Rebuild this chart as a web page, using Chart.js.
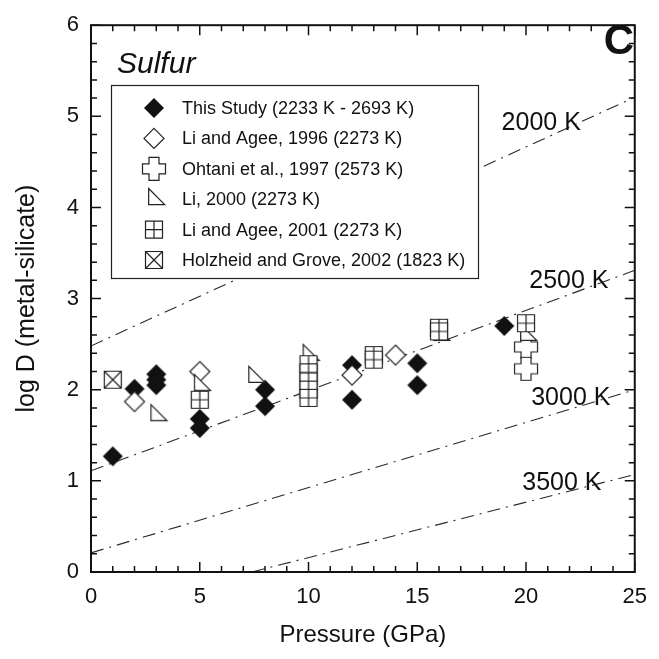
<!DOCTYPE html>
<html>
<head>
<meta charset="utf-8">
<script src="https://cdn.jsdelivr.net/npm/chart.js@4.4.1/dist/chart.umd.min.js"></script>
<style>
  html, body { margin: 0; padding: 0; background: #fff; }
  #wrap { width: 659px; height: 659px; }
</style>
</head>
<body>
<div id="wrap"><canvas id="chart" width="659" height="659"></canvas></div>
<script>
// pressure (GPa) and log D
const thisStudyP = [1, 2, 3, 3, 3, 5, 5, 8, 8, 12, 12, 15, 15, 19];
const thisStudyD = [1.27, 2.01, 2.17, 2.11, 2.05, 1.68, 1.58, 2.00, 1.82, 2.27, 1.89, 2.29, 2.05, 2.70];

const liAgee96P = [2, 5, 12, 14];
const liAgee96D = [1.87, 2.20, 2.16, 2.38];

const ohtaniP = [20, 20];
const ohtaniD = [2.47, 2.23];

const li2000P = [3, 5, 7.5, 10, 16, 20];
const li2000D = [1.72, 2.05, 2.14, 2.38, 2.60, 2.60];

const liAgee01P = [5, 10, 10, 10, 10, 10, 13, 13, 16, 16, 20];
const liAgee01D = [1.89, 2.28, 2.19, 2.09, 2.00, 1.91, 2.38, 2.33, 2.68, 2.64, 2.73];

const holzheidP = [1];
const holzheidD = [2.11];

const seriesLabels = [
  "This Study (2233 K - 2693 K)",
  "Li and Agee, 1996 (2273 K)",
  "Ohtani et al., 1997 (2573 K)",
  "Li, 2000 (2273 K)",
  "Li and Agee, 2001 (2273 K)",
  "Holzheid and Grove, 2002 (1823 K)"
];

// isotherm lines: end points [P0, P1], [logD0, logD1]
const isoLabels = ["2000 K", "2500 K", "3000 K", "3500 K"];
const isoP = [[0, 25], [0, 25], [0, 25], [7.4, 25]];
const isoD = [[2.48, 5.21], [1.11, 3.31], [0.21, 2.0], [0, 1.07]];
const isoLabelP = [20.7, 21.97, 22.06, 21.65];
const isoLabelD = [4.93, 3.19, 1.91, 0.97];

const FONT = "'Liberation Sans', Arial, Helvetica, sans-serif";
const INK = "#111";

function pts(xs, ys) {
  return xs.map((x, i) => ({ x: x, y: ys[i] }));
}

function drawMarker(g, kind, cx, cy) {
  g.save();
  g.lineWidth = 1.2;
  g.strokeStyle = "#222";
  g.fillStyle = "#fff";
  g.beginPath();
  if (kind === "filledDiamond" || kind === "openDiamond") {
    const h = 10;
    g.moveTo(cx, cy - h);
    g.lineTo(cx + h, cy);
    g.lineTo(cx, cy + h);
    g.lineTo(cx - h, cy);
    g.closePath();
    if (kind === "filledDiamond") {
      g.fillStyle = INK;
      g.fill();
    } else {
      g.fill();
      g.stroke();
    }
  } else if (kind === "cross") {
    const a = 5, h = 11.5;
    g.moveTo(cx - a, cy - h);
    g.lineTo(cx + a, cy - h);
    g.lineTo(cx + a, cy - a);
    g.lineTo(cx + h, cy - a);
    g.lineTo(cx + h, cy + a);
    g.lineTo(cx + a, cy + a);
    g.lineTo(cx + a, cy + h);
    g.lineTo(cx - a, cy + h);
    g.lineTo(cx - a, cy + a);
    g.lineTo(cx - h, cy + a);
    g.lineTo(cx - h, cy - a);
    g.lineTo(cx - a, cy - a);
    g.closePath();
    g.fill();
    g.stroke();
  } else if (kind === "triangle") {
    const w = 16, t = 16;
    const left = cx - w / 3, right = cx + 2 * w / 3;
    const top = cy - 2 * t / 3, bot = cy + t / 3;
    g.moveTo(left, top);
    g.lineTo(right, bot);
    g.lineTo(left, bot);
    g.closePath();
    g.fill();
    g.stroke();
  } else {
    const h = 8.5;
    g.rect(cx - h, cy - h, 2 * h, 2 * h);
    g.fill();
    g.stroke();
    g.beginPath();
    if (kind === "gridSquare") {
      g.moveTo(cx, cy - h); g.lineTo(cx, cy + h);
      g.moveTo(cx - h, cy); g.lineTo(cx + h, cy);
    } else {
      g.moveTo(cx - h, cy - h); g.lineTo(cx + h, cy + h);
      g.moveTo(cx + h, cy - h); g.lineTo(cx - h, cy + h);
    }
    g.stroke();
  }
  g.restore();
}

function markerImage(kind) {
  const c = document.createElement("canvas");
  c.width = 28;
  c.height = 28;
  drawMarker(c.getContext("2d"), kind, 14, 14);
  return c;
}

const kinds = ["filledDiamond", "openDiamond", "cross", "triangle", "gridSquare", "xSquare"];
const seriesP = [thisStudyP, liAgee96P, ohtaniP, li2000P, liAgee01P, holzheidP];
const seriesD = [thisStudyD, liAgee96D, ohtaniD, li2000D, liAgee01D, holzheidD];

const datasets = [];
kinds.forEach((k, i) => {
  datasets.push({
    label: seriesLabels[i],
    data: pts(seriesP[i], seriesD[i]),
    pointStyle: markerImage(k),
    legendMarker: k,
    showLine: false,
    order: 6 - i
  });
});
isoLabels.forEach((lab, i) => {
  datasets.push({
    label: lab,
    data: pts(isoP[i], isoD[i]),
    showLine: true,
    borderColor: "#2a2a2a",
    borderWidth: 1.1,
    borderDash: [13, 6, 2, 6],
    pointRadius: 0,
    order: 10
  });
});

const decorPlugin = {
  id: "decor",
  afterDatasetsDraw(chart) {
    const { ctx, scales: { x, y } } = chart;
    ctx.save();
    // isotherm labels
    ctx.fillStyle = INK;
    ctx.font = "25px " + FONT;
    ctx.textAlign = "center";
    ctx.textBaseline = "middle";
    isoLabels.forEach((lab, i) => {
      ctx.fillText(lab, x.getPixelForValue(isoLabelP[i]), y.getPixelForValue(isoLabelD[i]));
    });

    // legend box
    const bx = 111.5, by = 85.5, bw = 367, bh = 193;
    ctx.fillStyle = "#fff";
    ctx.fillRect(bx, by, bw, bh);
    ctx.strokeStyle = "#222";
    ctx.lineWidth = 1.2;
    ctx.strokeRect(bx, by, bw, bh);
    ctx.font = "18px " + FONT;
    ctx.textAlign = "left";
    ctx.textBaseline = "middle";
    chart.data.datasets.filter(d => d.legendMarker).forEach((d, i) => {
      const ry = 108 + i * 30.4;
      drawMarker(ctx, d.legendMarker, 154, ry);
      ctx.fillStyle = INK;
      ctx.fillText(d.label, 182, ry + 1);
    });

    // panel text
    ctx.fillStyle = INK;
    ctx.textBaseline = "alphabetic";
    ctx.font = "italic 30px " + FONT;
    ctx.fillText("Sulfur", 117, 73);
    ctx.font = "bold 42px " + FONT;
    ctx.textAlign = "right";
    ctx.fillText("C", 634, 54);
    ctx.restore();
  },
  afterDraw(chart) {
    const { ctx, chartArea: a, scales: { x, y } } = chart;
    ctx.save();
    ctx.strokeStyle = INK;
    ctx.lineWidth = 1.5;
    ctx.beginPath();
    for (let i = 0; i <= 25; i++) {
      const px = x.getPixelForValue(i);
      const len = i % 5 === 0 ? 10 : 6;
      ctx.moveTo(px, a.bottom); ctx.lineTo(px, a.bottom - len);
      ctx.moveTo(px, a.top); ctx.lineTo(px, a.top + len);
    }
    for (let i = 0; i <= 30; i++) {
      const py = y.getPixelForValue(i / 5);
      const len = i % 5 === 0 ? 10 : 6;
      ctx.moveTo(a.left, py); ctx.lineTo(a.left + len, py);
      ctx.moveTo(a.right, py); ctx.lineTo(a.right - len, py);
    }
    ctx.stroke();
    ctx.lineWidth = 2;
    ctx.strokeRect(a.left, a.top, a.right - a.left, a.bottom - a.top);
    ctx.restore();
  }
};

new Chart(document.getElementById("chart"), {
  type: "scatter",
  data: { datasets: datasets },
  plugins: [decorPlugin],
  options: {
    responsive: false,
    animation: false,
    devicePixelRatio: 1,
    layout: { padding: { top: 19, right: 15, left: 0, bottom: 0 } },
    plugins: {
      legend: { display: false },
      tooltip: { enabled: false }
    },
    scales: {
      x: {
        type: "linear",
        min: 0,
        max: 25,
        grid: { display: false, drawTicks: false },
        border: { display: false },
        ticks: { stepSize: 5, padding: 12, color: INK, font: { family: FONT, size: 22 } },
        title: {
          display: true,
          text: "Pressure (GPa)",
          color: INK,
          font: { family: FONT, size: 24 },
          padding: { top: 0, bottom: 9 }
        },
        afterFit(scale) { scale.height = 87; }
      },
      y: {
        type: "linear",
        min: 0,
        max: 6,
        grid: { display: false, drawTicks: false },
        border: { display: false },
        ticks: { stepSize: 1, padding: 12, color: INK, font: { family: FONT, size: 22 } },
        title: {
          display: true,
          text: "log D (metal-silicate)",
          color: INK,
          font: { family: FONT, size: 25 },
          padding: { top: 12, bottom: 0 }
        },
        afterFit(scale) { scale.width = 91; }
      }
    }
  }
});
</script>
</body>
</html>
